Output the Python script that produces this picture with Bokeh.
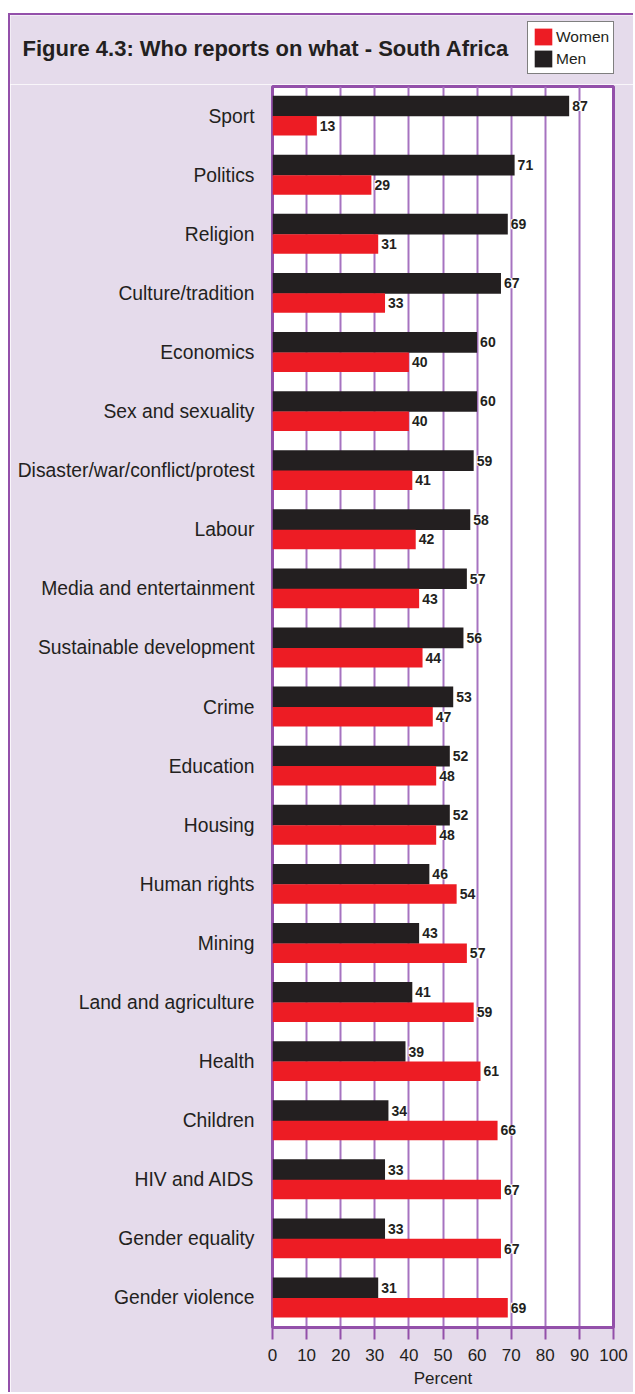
from bokeh.plotting import figure
from bokeh.models import (Range1d, FixedTicker, ColumnDataSource, Legend, LegendItem)
from bokeh.core.properties import value
from bokeh.embed import file_html
from bokeh.resources import INLINE

categories = ["Sport", "Politics", "Religion", "Culture/tradition", "Economics",
              "Sex and sexuality", "Disaster/war/conflict/protest", "Labour",
              "Media and entertainment", "Sustainable development", "Crime",
              "Education", "Housing", "Human rights", "Mining", "Land and agriculture",
              "Health", "Children", "HIV and AIDS", "Gender equality", "Gender violence"]
men = [87, 71, 69, 67, 60, 60, 59, 58, 57, 56, 53, 52, 52, 46, 43, 41, 39, 34, 33, 33, 31]
women = [13, 29, 31, 33, 40, 40, 41, 42, 43, 44, 47, 48, 48, 54, 57, 59, 61, 66, 67, 67, 69]
x_ticks = [0, 10, 20, 30, 40, 50, 60, 70, 80, 90, 100]
title_text = "Figure 4.3: Who reports on what - South Africa"
series_names = ["Women", "Men"]

FONT = "Liberation Sans"
PURPLE = "#9350aa"
GRID = "#a673c0"
BG = "#e5dbeb"
RED = "#ed1c24"
BLACK = "#231f20"

W = 625
TOP_H = 71
MAIN_H = 1379 - TOP_H

n = len(categories)
idx = list(range(n))
src = ColumnDataSource(dict(
    cat=categories, men=men, women=women,
    y_men=[i - 0.17 for i in idx], y_women=[i + 0.165 for i in idx],
    men_lbl=[str(v) for v in men], women_lbl=[str(v) for v in women]))

# ---------- header (title + legend) ----------
t = figure(width=W, height=TOP_H, output_backend="svg", toolbar_location=None,
           x_range=Range1d(0, W), y_range=Range1d(TOP_H, 0),
           x_axis_type=None, y_axis_type=None, min_border=0,
           background_fill_color=BG, border_fill_color=BG, outline_line_color=None,
           styles={"vertical-align": "top", "margin-left": "8px", "margin-top": "13px",
                   "border-left": "2px solid " + PURPLE,
                   "border-top": "2px solid " + PURPLE})
t.xgrid.visible = False
t.ygrid.visible = False
t.text(x=[12], y=[33], text=[title_text], text_font=value(FONT),
       text_font_style="bold", text_font_size="22px", text_baseline="middle",
       text_align="left", text_color=BLACK)
# legend proxies (hidden copies of the two series)
lw = t.hbar(y="y_women", right="women", left=0, height=0.33, fill_color=RED,
            line_color=None, source=src, visible=False)
lm = t.hbar(y="y_men", right="men", left=0, height=0.35, fill_color=BLACK,
            line_color=None, source=src, visible=False)
legend = Legend(items=[LegendItem(label=series_names[0], renderers=[lw]),
                       LegendItem(label=series_names[1], renderers=[lm])],
                location=(517, 12),
                border_line_color="black", border_line_width=1,
                background_fill_color="white", background_fill_alpha=1,
                inactive_fill_alpha=0,
                label_text_font=FONT, label_text_font_size="15.5px",
                label_text_color=BLACK,
                glyph_width=22, glyph_height=21, label_height=21,
                spacing=1, padding=4, margin=0, label_standoff=2)
t.add_layout(legend)

# ---------- main chart ----------
p = figure(width=W, height=MAIN_H, output_backend="svg", toolbar_location=None,
           x_range=Range1d(0, 100), y_range=Range1d(n - 0.5, -0.5),
           min_border_left=262, min_border_right=22, min_border_top=2,
           min_border_bottom=65,
           background_fill_color="white", border_fill_color=BG,
           outline_line_color=PURPLE, outline_line_width=3,
           styles={"vertical-align": "top", "margin-left": "8px",
                   "border-left": "2px solid " + PURPLE})

rm = p.hbar(y="y_men", right="men", left=0, height=0.35, fill_color=BLACK,
            line_color=None, source=src)
rw = p.hbar(y="y_women", right="women", left=0, height=0.33, fill_color=RED,
            line_color=None, source=src)

for col, ycol in (("men", "y_men"), ("women", "y_women")):
    p.text(x=col, y=ycol, text=col + "_lbl", x_offset=3,
           text_baseline="middle", text_align="left", text_font=value(FONT),
           text_font_style="bold", text_font_size="14px", text_color=BLACK,
           background_fill_color="white", source=src)

# grid
p.xgrid.ticker = FixedTicker(ticks=x_ticks)
p.xgrid.grid_line_color = GRID
p.xgrid.grid_line_width = 2
p.ygrid.grid_line_color = None

# x axis
xa = p.xaxis[0]
xa.ticker = FixedTicker(ticks=x_ticks)
xa.axis_line_color = PURPLE
xa.axis_line_width = 3
xa.major_tick_line_color = PURPLE
xa.major_tick_line_width = 2
xa.major_tick_out = 12
xa.major_tick_in = 0
xa.minor_tick_line_color = None
xa.major_label_text_font = FONT
xa.major_label_text_font_size = "17px"
xa.major_label_text_color = BLACK
xa.major_label_standoff = 9
xa.axis_label = "Percent"
xa.axis_label_text_font = FONT
xa.axis_label_text_font_size = "17px"
xa.axis_label_text_font_style = "normal"
xa.axis_label_text_color = BLACK
xa.axis_label_standoff = 5

# y axis
ya = p.yaxis[0]
ya.ticker = FixedTicker(ticks=idx)
ya.major_label_overrides = {i: c for i, c in zip(idx, categories)}
ya.axis_line_color = None
ya.major_tick_line_color = None
ya.minor_tick_line_color = None
ya.major_label_standoff = 12
ya.major_label_text_font = FONT
ya.major_label_text_font_size = "19.3px"
ya.major_label_text_color = BLACK

open("out.html", "w").write(file_html([t, p], INLINE))
